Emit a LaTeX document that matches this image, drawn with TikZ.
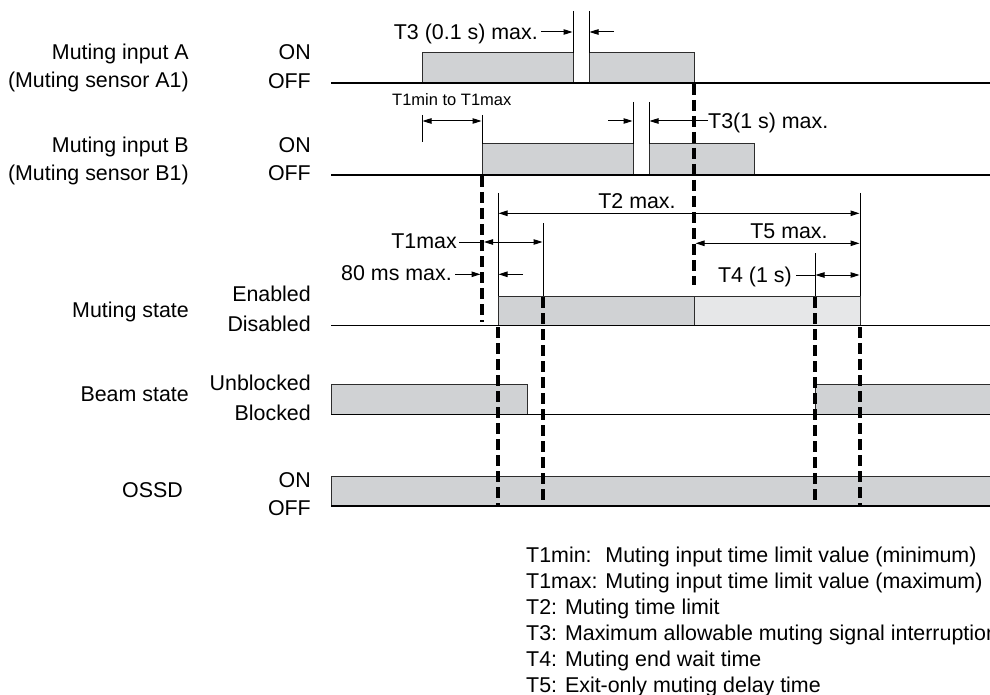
\documentclass[tikz,border=0pt]{standalone}
\usepackage{fontspec}
\setmainfont{Liberation Sans}
\usetikzlibrary{arrows.meta}
\definecolor{sigfill}{RGB}{208,210,212}
\definecolor{sigfilltwo}{RGB}{230,231,232}
\definecolor{edgegray}{RGB}{45,45,45}
\begin{document}
\begin{tikzpicture}[x=1pt,y=-1pt,
  lbl/.style={inner sep=0pt, font=\fontsize{21.4}{25}\selectfont},
  small/.style={inner sep=0pt, font=\fontsize{16.5}{19}\selectfont},
  outl/.style={draw=edgegray, line width=1pt},
  base/.style={black, line width=1.9pt},
  tk/.style={black, line width=1pt},
  dsh/.style={black, line width=3.2pt, dash pattern=on 11pt off 5pt},
  dim/.style={black, line width=1pt, -{Triangle[length=9pt,width=5.5pt]}},
  ddim/.style={black, line width=1pt, {Triangle[length=9pt,width=5.5pt]}-{Triangle[length=9pt,width=5.5pt]}}
]
\useasboundingbox (0,0) rectangle (990,695);
\clip (0,0) rectangle (990,695);

% ---------- row labels ----------
\node[lbl, anchor=base east] (la1) at (189,59.5) {Muting input A};
\node[lbl, anchor=base east] (la2) at (189,87.5) {(Muting sensor A1)};
\node[lbl, anchor=base east] (aon) at (311,59.5) {ON};
\node[lbl, anchor=base east] (aoff) at (311,89) {OFF};
\node[lbl, anchor=base east] (lb1) at (189,152.5) {Muting input B};
\node[lbl, anchor=base east] (lb2) at (189,180.5) {(Muting sensor B1)};
\node[lbl, anchor=base east] (bon) at (311,152.5) {ON};
\node[lbl, anchor=base east] (boff) at (311,180.5) {OFF};
\node[lbl, anchor=base east] (lm) at (189,317.5) {Muting state};
\node[lbl, anchor=base east] (men) at (311,301) {Enabled};
\node[lbl, anchor=base east] (mdis) at (311,331) {Disabled};
\node[lbl, anchor=base east] (lbeam) at (189,401.5) {Beam state};
\node[lbl, anchor=base east] (bun) at (311,390.5) {Unblocked};
\node[lbl, anchor=base east] (bbl) at (311,420) {Blocked};
\node[lbl, anchor=base east] (lossd) at (183,497.5) {OSSD};
\node[lbl, anchor=base east] (oon) at (311,487.5) {ON};
\node[lbl, anchor=base east] (ooff) at (311,515.5) {OFF};

% ---------- signal fills ----------
% input A
\draw[outl, fill=sigfill] (422,83) -- (422,53) -- (573,53) -- (573,83);
\draw[outl, fill=sigfill] (589,83) -- (589,53) -- (694,53) -- (694,83);
\draw[tk] (573,11) -- (573,53);
\draw[tk] (589,11) -- (589,53);
% input B
\draw[outl, fill=sigfill] (482,175) -- (482,144) -- (633,144) -- (633,175);
\draw[outl, fill=sigfill] (649,175) -- (649,144) -- (754,144) -- (754,175);
\draw[tk] (633,102) -- (633,144);
\draw[tk] (649,102) -- (649,144);
% muting state
\fill[sigfill] (498,296) rectangle (694,325.5);
\fill[sigfilltwo] (694,296) rectangle (860,325.5);
\draw[outl] (498,325.5) -- (498,296) -- (860,296) -- (860,325.5);
\draw[outl] (694,296) -- (694,325.5);
% beam state
\draw[outl, fill=sigfill] (331,414.5) -- (331,384.5) -- (527,384.5) -- (527,414.5);
\draw[outl, fill=sigfill] (815,414.5) -- (815,384.5) -- (995,384.5) -- (995,414.5);
% OSSD
\draw[outl, fill=sigfill] (331,506) -- (331,476) -- (995,476) -- (995,506);

% ---------- baselines ----------
\draw[base] (331,83) -- (990,83);
\draw[base] (331,175) -- (990,175);
\draw[base] (331,325.5) -- (990,325.5);
\draw[base] (331,414.5) -- (990,414.5);
\draw[base] (331,506) -- (990,506);

% ---------- extension ticks ----------
\draw[tk] (422,115) -- (422,142);
\draw[tk] (482,115) -- (482,144);
\draw[tk] (498,193) -- (498,296);
\draw[tk] (860,193) -- (860,296);
\draw[tk] (543,223) -- (543,296);
\draw[tk] (815,253) -- (815,296);

% ---------- dashed guide lines ----------
\draw[dsh] (482,176) -- (482,322);
\draw[dsh] (694,84) -- (694,285);
\draw[dsh] (498,327) -- (498,506);
\draw[dsh] (543,297) -- (543,500);
\draw[dsh] (815,297) -- (815,500);
\draw[dsh] (860,327) -- (860,506);

% ---------- dimension labels and arrows ----------
\node[lbl, anchor=base east] (t3a) at (538,39.5) {T3 (0.1 s) max.};
\draw[dim] (541,32) -- (572.5,32);
\draw[dim] (614,32) -- (589.5,32);

\node[small, anchor=base west] (t1r) at (392,106) {T1min to T1max};
\draw[ddim] (422.5,121) -- (481.5,121);

\node[lbl, anchor=base west] (t3b) at (708,128.5) {T3(1 s) max.};
\draw[dim] (608,121) -- (632.5,121);
\draw[dim] (t3b.west |- 0,121) -- (649.5,121);

\node[lbl, anchor=base] (t2) at (637,208) {T2 max.};
\draw[ddim] (498.5,213.3) -- (859.5,213.3);

\node[lbl, anchor=base] (t5) at (789,238) {T5 max.};
\draw[ddim] (695.5,243.3) -- (859.5,243.3);

\node[lbl, anchor=base east] (t1m) at (457,248) {T1max};
\draw[tk] (459,242) -- (482,242);
\draw[ddim] (484,242) -- (542.5,242);

\node[lbl, anchor=base east] (t80) at (452,280) {80 ms max.};
\draw[dim] (455,274.3) -- (480.5,274.3);
\draw[dim] (523,274.3) -- (498.5,274.3);

\node[lbl, anchor=base east] (t4) at (792,282.5) {T4 (1 s)};
\draw[tk] (796,275) -- (815,275);
\draw[ddim] (815.5,275) -- (859.5,275);

% ---------- legend ----------
\node[lbl, anchor=base west] (lg1) at (526,562.5) {T1min:~ Muting input time limit value (minimum)};
\node[lbl, anchor=base west] (lg2) at (526,588.5) {T1max: Muting input time limit value (maximum)};
\node[lbl, anchor=base west] (lg3) at (526,614.5) {T2: Muting time limit};
\node[lbl, anchor=base west] (lg4) at (526,640.5) {T3: Maximum allowable muting signal interruption};
\node[lbl, anchor=base west] (lg5) at (526,666.5) {T4: Muting end wait time};
\node[lbl, anchor=base west] (lg6) at (526,692.5) {T5: Exit-only muting delay time};
\end{tikzpicture}
\end{document}
